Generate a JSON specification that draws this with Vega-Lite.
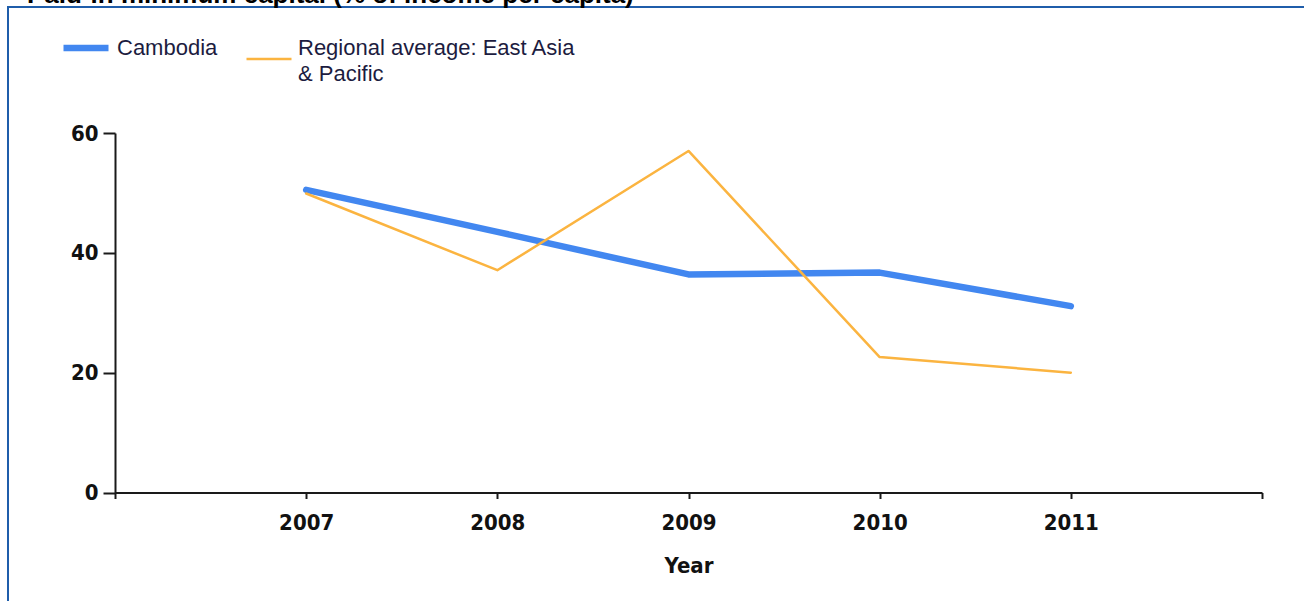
{
  "$schema": "https://vega.github.io/schema/vega-lite/v6.json",
  "width": 1310,
  "height": 600,
  "autosize": {"type": "none"},
  "padding": {"left": 8, "top": 7, "right": 0, "bottom": 0},
  "background": "white",
  "title": {
    "text": "Paid-in minimum capital (% of income per capita)",
    "anchor": "start",
    "frame": "group",
    "baseline": "alphabetic",
    "offset": 0,
    "dy": 22,
    "dx": 19,
    "font": "Liberation Sans",
    "fontSize": 26,
    "fontWeight": "bold",
    "color": "#000000"
  },
  "data": {
    "values": [
      {"year": 2007, "series": "Cambodia", "value": 50.5},
      {"year": 2008, "series": "Cambodia", "value": 43.5},
      {"year": 2009, "series": "Cambodia", "value": 36.4},
      {"year": 2010, "series": "Cambodia", "value": 36.7},
      {"year": 2011, "series": "Cambodia", "value": 31.1},
      {"year": 2007, "series": "Regional average: East Asia & Pacific", "value": 49.9},
      {"year": 2008, "series": "Regional average: East Asia & Pacific", "value": 37.1},
      {"year": 2009, "series": "Regional average: East Asia & Pacific", "value": 57.0},
      {"year": 2010, "series": "Regional average: East Asia & Pacific", "value": 22.6},
      {"year": 2011, "series": "Regional average: East Asia & Pacific", "value": 20.0}
    ]
  },
  "mark": {"type": "line", "strokeCap": "round", "strokeJoin": "round"},
  "encoding": {
    "x": {
      "field": "year",
      "type": "quantitative",
      "scale": {"domain": [2006, 2012], "range": [107, 1254], "nice": false, "zero": false},
      "axis": {
        "orient": "bottom",
        "offset": -114.5,
        "values": [2006, 2007, 2008, 2009, 2010, 2011, 2012],
        "format": "d",
        "labelExpr": "datum.value == 2006 || datum.value == 2012 ? '' : datum.label",
        "grid": false,
        "tickSize": 6,
        "labelPadding": 14,
        "title": "Year",
        "titlePadding": 22
      }
    },
    "y": {
      "field": "value",
      "type": "quantitative",
      "scale": {"domain": [0, 60], "range": [485.5, 126], "nice": false},
      "axis": {
        "orient": "left",
        "offset": -107,
        "values": [0, 20, 40, 60],
        "grid": false,
        "tickSize": 12,
        "labelPadding": 5,
        "title": null
      }
    },
    "color": {
      "field": "series",
      "type": "nominal",
      "scale": {
        "domain": ["Cambodia", "Regional average: East Asia & Pacific"],
        "range": ["#4287F0", "#FBB440"]
      },
      "legend": {
        "orient": "none",
        "legendX": 52,
        "legendY": 29,
        "direction": "horizontal",
        "title": null,
        "padding": 0,
        "symbolType": "stroke",
        "symbolSize": 2025,
        "columnPadding": 23,
        "labelOffset": 5,
        "labelLimit": 600,
        "labelFont": "Liberation Sans",
        "labelFontSize": 22,
        "labelColor": "#1c1c40",
        "labelExpr": "datum.label == 'Regional average: East Asia & Pacific' ? ['Regional average: East Asia', '& Pacific'] : [datum.label, ' ']",
        "encode": {
          "symbols": {"update": {
            "strokeWidth": {"signal": "datum.value === 'Cambodia' ? 5 : 3"},
            "y": {"signal": "datum.value === 'Cambodia' ? 12 : 23"}
          }},
          "labels": {"update": {
            "lineHeight": {"value": 26},
            "y": {"value": 12}
          }}
        }
      }
    },
    "strokeWidth": {
      "field": "series",
      "type": "ordinal",
      "scale": {
        "domain": ["Cambodia", "Regional average: East Asia & Pacific"],
        "range": [6.5, 2.5]
      },
      "legend": null
    }
  },
  "config": {
    "view": {"stroke": "#1F5DAA", "strokeWidth": 2},
    "axis": {
      "domainColor": "#1a1a1a",
      "domainWidth": 2,
      "tickColor": "#1a1a1a",
      "tickWidth": 2,
      "labelFont": "DejaVu Sans Condensed",
      "labelFontSize": 22,
      "labelFontWeight": "bold",
      "labelColor": "#111111",
      "titleFont": "DejaVu Sans Condensed",
      "titleFontSize": 22,
      "titleFontWeight": "bold",
      "titleColor": "#111111"
    }
  }
}
